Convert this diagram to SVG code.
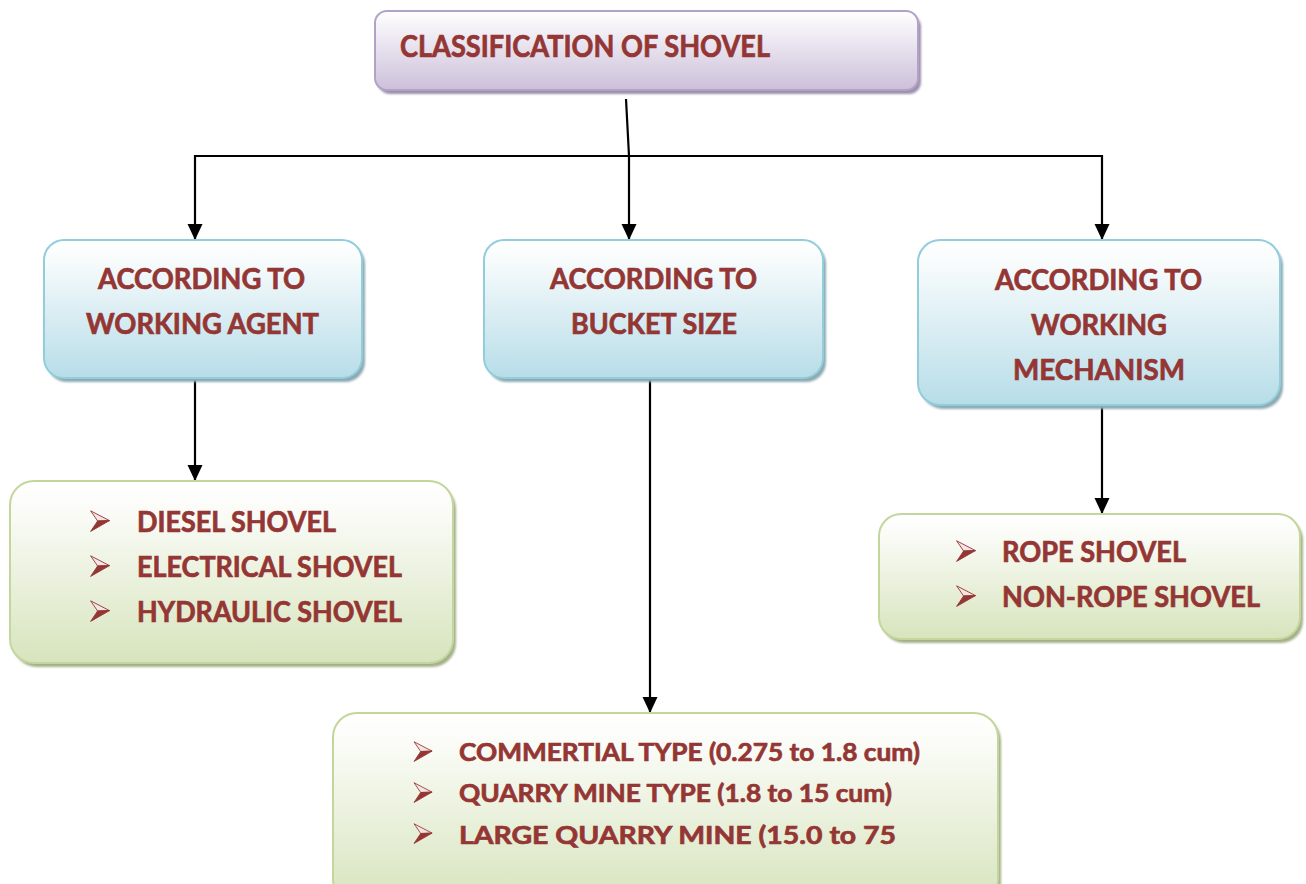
<svg xmlns="http://www.w3.org/2000/svg" xmlns:xlink="http://www.w3.org/1999/xlink" width="1306" height="884" viewBox="0 0 1306 884">
  <defs>
    <linearGradient id="gPurple" x1="0" y1="0" x2="0" y2="1">
      <stop offset="0" stop-color="#ffffff"/>
      <stop offset="1" stop-color="#ccc0da"/>
    </linearGradient>
    <linearGradient id="gBlue" x1="0" y1="0" x2="0" y2="1">
      <stop offset="0" stop-color="#ffffff"/>
      <stop offset="0.15" stop-color="#f7fbfc"/>
      <stop offset="1" stop-color="#b7dde8"/>
    </linearGradient>
    <linearGradient id="gGreen" x1="0" y1="0" x2="0" y2="1">
      <stop offset="0" stop-color="#ffffff"/>
      <stop offset="0.15" stop-color="#fbfcf8"/>
      <stop offset="1" stop-color="#d7e4bd"/>
    </linearGradient>
    <marker id="arr" markerUnits="userSpaceOnUse" markerWidth="16" markerHeight="16" refX="16" refY="7.5" orient="auto" viewBox="0 0 16 15">
      <path d="M0,0 L16,7.5 L0,15 z" fill="#000"/>
    </marker>
    <symbol id="bul" viewBox="0 0 20 22">
      <path d="M0.6,0.8 L19.5,10.6 L7.6,11 Z" fill="#f4e4e4" stroke="#943634" stroke-width="0.9" stroke-linejoin="round"/>
      <path d="M7.6,11 L19.5,10.6 L0.6,21.4 Z" fill="#943634" stroke="#943634" stroke-width="0.9" stroke-linejoin="round"/>
    </symbol>
    <filter id="blur" x="-5%" y="-5%" width="110%" height="110%">
      <feGaussianBlur stdDeviation="1.2"/>
    </filter>
  </defs>
  <style>
    .t { font-family: Lato, "Open Sans", "Liberation Sans", sans-serif; font-weight: bold; fill: #943634; stroke: #943634; stroke-width: 0.7; }
    .h { font-size: 30px; }
    .m { font-size: 29px; }
    .s { font-size: 25px; }
    .pur { fill: url(#gPurple); stroke: #b3a2c7; stroke-width: 2; }
    .blu { fill: url(#gBlue); stroke: #92cddc; stroke-width: 2; }
    .grn { fill: url(#gGreen); stroke: #c3d69b; stroke-width: 2; }
    .shP { fill: #9d90aa; filter: url(#blur); }
    .shB { fill: #8caab3; filter: url(#blur); }
    .shG { fill: #a5b08a; filter: url(#blur); }
    .c { fill: none; stroke: #000; stroke-width: 2.2; }
  </style>
  <rect width="1306" height="884" fill="#ffffff"/>

  <g id="connectors">
    <path class="c" d="M626,99 L629,156 L629,240" marker-end="url(#arr)"/>
    <path class="c" d="M195,156 H1102"/>
    <path class="c" d="M195,155 V240" marker-end="url(#arr)"/>
    <path class="c" d="M1102,155 V240" marker-end="url(#arr)"/>
    <path class="c" d="M195,380 V481" marker-end="url(#arr)"/>
    <path class="c" d="M650,380 V713" marker-end="url(#arr)"/>
    <path class="c" d="M1102,405 V514" marker-end="url(#arr)"/>
  </g>

  <g id="root">
    <rect class="shP" x="378" y="15" width="543" height="79" rx="12"/>
    <rect class="pur" x="375" y="11" width="543" height="79" rx="12"/>
    <text class="t h" x="400" y="57" textLength="370" lengthAdjust="spacingAndGlyphs">CLASSIFICATION OF SHOVEL</text>
  </g>

  <g id="working-agent">
    <rect class="shB" x="47" y="244" width="318" height="138" rx="20"/>
    <rect class="blu" x="44" y="240" width="318" height="138" rx="20"/>
    <text class="t m" x="98" y="289" textLength="207" lengthAdjust="spacingAndGlyphs">ACCORDING TO</text>
    <text class="t m" x="86" y="334" textLength="233" lengthAdjust="spacingAndGlyphs">WORKING AGENT</text>
  </g>

  <g id="bucket-size">
    <rect class="shB" x="487" y="244" width="339" height="138" rx="20"/>
    <rect class="blu" x="484" y="240" width="339" height="138" rx="20"/>
    <text class="t m" x="550" y="289" textLength="207" lengthAdjust="spacingAndGlyphs">ACCORDING TO</text>
    <text class="t m" x="571" y="334" textLength="166" lengthAdjust="spacingAndGlyphs">BUCKET SIZE</text>
  </g>

  <g id="working-mechanism">
    <rect class="shB" x="921" y="244" width="362" height="165" rx="22"/>
    <rect class="blu" x="918" y="240" width="362" height="165" rx="22"/>
    <text class="t m" x="995" y="290" textLength="207" lengthAdjust="spacingAndGlyphs">ACCORDING TO</text>
    <text class="t m" x="1031" y="335" textLength="136" lengthAdjust="spacingAndGlyphs">WORKING</text>
    <text class="t m" x="1013" y="380" textLength="172" lengthAdjust="spacingAndGlyphs">MECHANISM</text>
  </g>

  <g id="agent-types">
    <rect class="shG" x="13" y="485" width="443" height="182" rx="24"/>
    <rect class="grn" x="10" y="481" width="443" height="182" rx="24"/>
    <use href="#bul" x="90" y="510" width="20" height="22"/>
    <text class="t m" x="137" y="532" textLength="199" lengthAdjust="spacingAndGlyphs">DIESEL SHOVEL</text>
    <use href="#bul" x="90" y="555" width="20" height="22"/>
    <text class="t m" x="137" y="577" textLength="265" lengthAdjust="spacingAndGlyphs">ELECTRICAL SHOVEL</text>
    <use href="#bul" x="90" y="600" width="20" height="22"/>
    <text class="t m" x="137" y="622" textLength="265" lengthAdjust="spacingAndGlyphs">HYDRAULIC SHOVEL</text>
  </g>

  <g id="mechanism-types">
    <rect class="shG" x="882" y="518" width="421" height="125" rx="22"/>
    <rect class="grn" x="879" y="514" width="421" height="125" rx="22"/>
    <use href="#bul" x="956" y="540" width="20" height="22"/>
    <text class="t m" x="1002" y="562" textLength="184" lengthAdjust="spacingAndGlyphs">ROPE SHOVEL</text>
    <use href="#bul" x="956" y="585" width="20" height="22"/>
    <text class="t m" x="1002" y="607" textLength="258" lengthAdjust="spacingAndGlyphs">NON-ROPE SHOVEL</text>
  </g>

  <g id="bucket-types">
    <rect class="shG" x="336" y="717" width="665" height="190" rx="24"/>
    <rect class="grn" x="333" y="713" width="665" height="190" rx="24"/>
    <use href="#bul" x="413" y="741" width="20" height="21"/>
    <text class="t s" x="459" y="761" textLength="461" lengthAdjust="spacingAndGlyphs">COMMERTIAL TYPE (0.275 to 1.8 cum)</text>
    <use href="#bul" x="413" y="782" width="20" height="21"/>
    <text class="t s" x="459" y="802" textLength="433" lengthAdjust="spacingAndGlyphs">QUARRY MINE TYPE (1.8 to 15 cum)</text>
    <use href="#bul" x="413" y="823" width="20" height="21"/>
    <text class="t s" x="459" y="844" textLength="437" lengthAdjust="spacingAndGlyphs">LARGE QUARRY MINE (15.0 to 75</text>
  </g>
</svg>
